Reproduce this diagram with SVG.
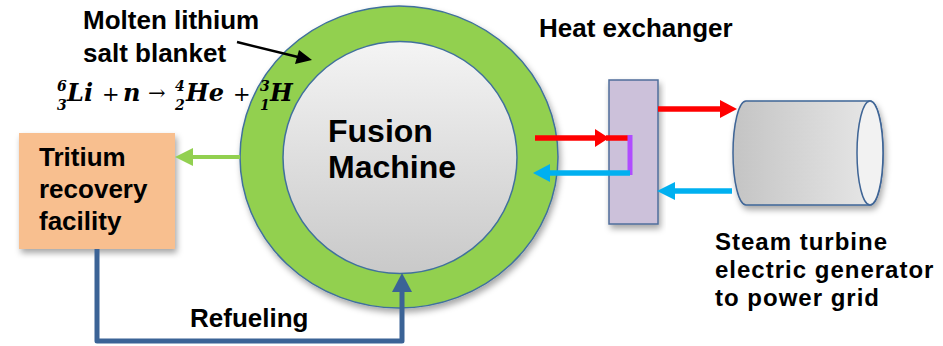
<svg xmlns="http://www.w3.org/2000/svg" width="943" height="346" viewBox="0 0 943 346">
<defs>
<style>
.lbl{font-family:"Liberation Sans",Arial,sans-serif;font-weight:bold;font-size:26px;fill:#000}
.lbs{font-family:"Liberation Sans",Arial,sans-serif;font-weight:bold;font-size:24px;letter-spacing:1px;fill:#000}
.big{font-family:"Liberation Sans",Arial,sans-serif;font-weight:bold;font-size:32px;fill:#000}
.eq{font-family:"DejaVu Serif","Liberation Serif",serif;font-weight:bold;font-style:italic;font-size:24px;fill:#000}
.s{font-size:14px}
.o{font-style:normal;font-weight:normal;font-size:21px}
</style>
<filter id="sh" x="-10%" y="-10%" width="125%" height="130%">
<feDropShadow dx="2" dy="4" stdDeviation="3" flood-color="#000" flood-opacity="0.35"/>
</filter>
<linearGradient id="gIn" x1="0" y1="0" x2="0" y2="1">
<stop offset="0" stop-color="#F4F4F4"/>
<stop offset="1" stop-color="#C9C9C9"/>
</linearGradient>
<linearGradient id="gCyl" x1="0" y1="0" x2="1" y2="0">
<stop offset="0" stop-color="#C4C4C4"/>
<stop offset="1" stop-color="#E9E9E9"/>
</linearGradient>
</defs>
<rect width="943" height="346" fill="#fff"/>

<g id="machine">
<ellipse cx="399" cy="157" rx="159" ry="151" fill="#92D050" stroke="#41719C" stroke-width="1.5" filter="url(#sh)"/>
<ellipse cx="400" cy="157.5" rx="117" ry="116" fill="url(#gIn)" stroke="#41719C" stroke-width="1.5"/>
<text class="big" x="328" y="142">Fusion</text>
<text class="big" x="328" y="178">Machine</text>
</g>

<g id="blanket-label">
<text class="lbl" x="83" y="29">Molten lithium</text>
<text class="lbl" x="83" y="62">salt blanket</text>
</g>

<g id="equation">
<text class="eq"><tspan class="s" x="57" y="91">6</tspan><tspan class="s" x="57" y="110">3</tspan><tspan x="67" y="101">Li</tspan><tspan class="o" x="102" y="101">+</tspan><tspan x="123" y="101">n</tspan><tspan class="o" x="148" y="100">→</tspan><tspan class="s" x="175" y="91">4</tspan><tspan class="s" x="175" y="110">2</tspan><tspan x="186" y="101">He</tspan><tspan class="o" x="233" y="101">+</tspan><tspan class="s" x="260" y="91">3</tspan><tspan class="s" x="260" y="110">1</tspan><tspan x="270" y="101">H</tspan></text>
</g>

<g id="tritium">
<rect x="19" y="133" width="156" height="116" fill="#F8BF8F" filter="url(#sh)"/>
<text class="lbl" x="39" y="166">Tritium</text>
<text class="lbl" x="39" y="198">recovery</text>
<text class="lbl" x="39" y="230">facility</text>
</g>

<g id="heat-exchanger">
<rect x="609" y="80" width="49" height="144" fill="#CCC1DA" stroke="#4F6E9B" stroke-width="1.5" filter="url(#sh)"/>
<text class="lbl" x="539" y="37">Heat exchanger</text>
</g>

<g id="turbine">
<path d="M746,101 L870,101 A13,52 0 0 1 870,205 L746,205 A13,52 0 0 1 746,101 Z" fill="url(#gCyl)" stroke="#3F6596" stroke-width="1.5" filter="url(#sh)"/>
<ellipse cx="870" cy="153" rx="13" ry="52" fill="#F2F2F2" stroke="#3F6596" stroke-width="1.5"/>
<text class="lbs" x="715" y="250">Steam turbine</text>
<text class="lbs" x="715" y="278">electric generator</text>
<text class="lbs" x="715" y="306">to power grid</text>
</g>

<g id="connectors">
<line x1="237" y1="42" x2="298" y2="57" stroke="#000" stroke-width="2.5"/>
<polygon points="312,60 295,64 299,50" fill="#000"/>

<line x1="240" y1="157" x2="190" y2="157" stroke="#92D050" stroke-width="4"/>
<polygon points="175,157 193,148 193,166" fill="#92D050"/>

<polyline points="97,249 97,341 402,341 402,290" fill="none" stroke="#3B6396" stroke-width="5" stroke-linejoin="round"/>
<polygon points="402,273 392,292 412,292" fill="#3B6396"/>

<line x1="535" y1="138" x2="598" y2="138" stroke="#FF0000" stroke-width="5.5"/>
<polygon points="609,138 595,129 595,147" fill="#FF0000"/>
<line x1="606" y1="138" x2="630" y2="138" stroke="#FF0000" stroke-width="5.5"/>
<line x1="630" y1="135" x2="630" y2="175" stroke="#B04CFF" stroke-width="5"/>
<line x1="630" y1="173" x2="548" y2="173" stroke="#00B0F0" stroke-width="5.5"/>
<polygon points="533,173 550,164 550,182" fill="#00B0F0"/>

<line x1="658" y1="109" x2="722" y2="109" stroke="#FF0000" stroke-width="5.5"/>
<polygon points="737,109 720,100 720,118" fill="#FF0000"/>

<line x1="732" y1="191" x2="672" y2="191" stroke="#00B0F0" stroke-width="5.5"/>
<polygon points="657,191 675,182 675,200" fill="#00B0F0"/>

<text class="lbl" x="190" y="327">Refueling</text>
</g>
</svg>
